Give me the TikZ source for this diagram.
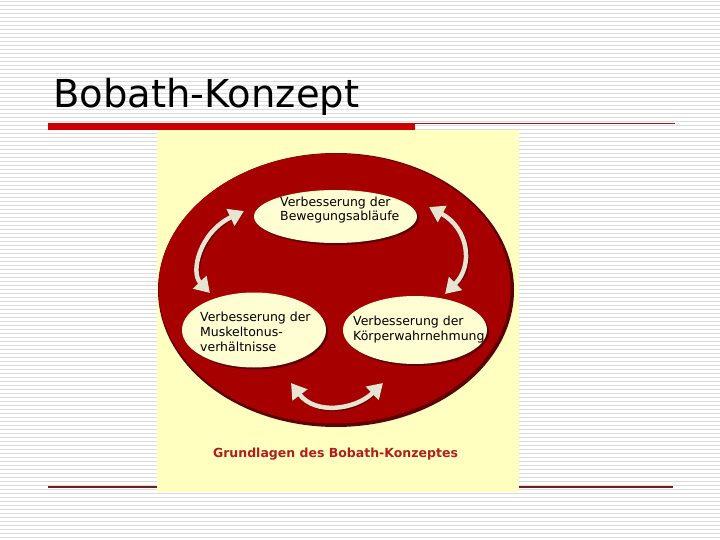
\documentclass[tikz,border=0pt]{standalone}
\usepackage{fontspec}
\setmainfont{DejaVu Sans}
\newfontfamily\titlefont{DejaVu Sans}
\usetikzlibrary{arrows.meta,shapes.geometric}
\definecolor{bgline}{HTML}{DCDCDC}
\definecolor{barred}{HTML}{CC0000}
\definecolor{thinred}{HTML}{B01010}
\definecolor{botline}{HTML}{6E1E1E}
\definecolor{panel}{HTML}{FFFFBF}
\definecolor{bigred}{HTML}{A60000}
\definecolor{darkred}{HTML}{5E0000}
\definecolor{cream}{HTML}{FFFDD2}
\definecolor{arrowc}{HTML}{E8E4D2}
\definecolor{labelred}{HTML}{B01E1E}
\tikzset{
  bubble/.style={ellipse, fill=cream, inner sep=0pt},
  bubbleshadow/.style={ellipse, fill=darkred, inner sep=0pt},
  lbl/.style={anchor=base west, inner sep=0pt, font=\fontsize{12.5}{15}\selectfont},
  dblarrow/.style={line width=4.5pt, arrowc, {Triangle[width=18pt,length=15pt]}-{Triangle[width=18pt,length=15pt]}},
  dblshadow/.style={line width=4.5pt, darkred, {Triangle[width=18pt,length=15pt]}-{Triangle[width=18pt,length=15pt]}}
}
\begin{document}
\begin{tikzpicture}[x=1pt,y=-1pt]
\useasboundingbox (0,0) rectangle (720,540);
\fill[white] (0,0) rectangle (720,540);
\foreach \i in {0,...,134} \draw[bgline, line width=1pt] (0,4*\i+1.5) -- (720,4*\i+1.5);
% title
\node[anchor=base west, inner sep=0pt, font=\titlefont\fontsize{38.5}{40}\selectfont] (title) at (53,108) {Bobath-Konzept};
% lines
\draw[thinred, line width=0.8pt] (48,123.5) -- (675,123.5);
\fill[barred] (48,123) rectangle (415,130);
\draw[botline, line width=1.5pt] (48,487) -- (673,487);
% panel
\fill[panel] (157,130) rectangle (519,492);
% big ellipse
\node[ellipse, fill=darkred, minimum width=356pt, minimum height=274pt, inner sep=0pt] (bigs) at (336,290) {};
\node[ellipse, fill=bigred, minimum width=352pt, minimum height=270pt, inner sep=0pt] (big) at (334.5,288.5) {};
% bubbles
\node[bubbleshadow, minimum width=163pt, minimum height=53pt] (tops) at (337.5,218.5) {};
\node[bubble, minimum width=163pt, minimum height=53pt] (top) at (335.5,216.5) {};
\node[bubbleshadow, minimum width=144pt, minimum height=75pt] (lefts) at (256,332) {};
\node[bubble, minimum width=144pt, minimum height=75pt] (left) at (254,330) {};
\node[bubbleshadow, minimum width=144pt, minimum height=68pt] (rights) at (417,332) {};
\node[bubble, minimum width=144pt, minimum height=68pt] (right) at (415,330) {};
% texts
\node[lbl] (t1) at (280,206.5) {Verbesserung der};
\node[lbl] (t2) at (280,220.5) {Bewegungsabläufe};
\node[lbl] (l1) at (200,321.5) {Verbesserung der};
\node[lbl] (l2) at (200,336.5) {Muskeltonus-};
\node[lbl] (l3) at (200,351.5) {verhältnisse};
\node[lbl] (r1) at (353,325) {Verbesserung der};
\node[lbl] (r2) at (353,340) {Körperwahrnehmung};
\node[anchor=base, inner sep=0pt, font=\bfseries\fontsize{12.5}{15}\selectfont, text=labelred] (caption) at (335.5,457) {Grundlagen des Bobath-Konzeptes};
% arrow end points
\coordinate (la) at (244,211);
\coordinate (lb) at (210,293);
\coordinate (ra) at (429,207);
\coordinate (rb) at (445,294);
\coordinate (ba) at (291,383);
\coordinate (bb) at (383,383);
% shadows
\begin{scope}[shift={(1.5,1.5)}]
\draw[dblshadow] (la) .. controls (200,232) and (190,272) .. (lb);
\draw[dblshadow] (ra) .. controls (468,228) and (474,265) .. (rb);
\draw[dblshadow] (ba) .. controls (315,415) and (355,410) .. (bb);
\end{scope}
\draw[dblarrow] (la) .. controls (200,232) and (190,272) .. (lb);
\draw[dblarrow] (ra) .. controls (468,228) and (474,265) .. (rb);
\draw[dblarrow] (ba) .. controls (315,415) and (355,410) .. (bb);
\end{tikzpicture}
\end{document}
